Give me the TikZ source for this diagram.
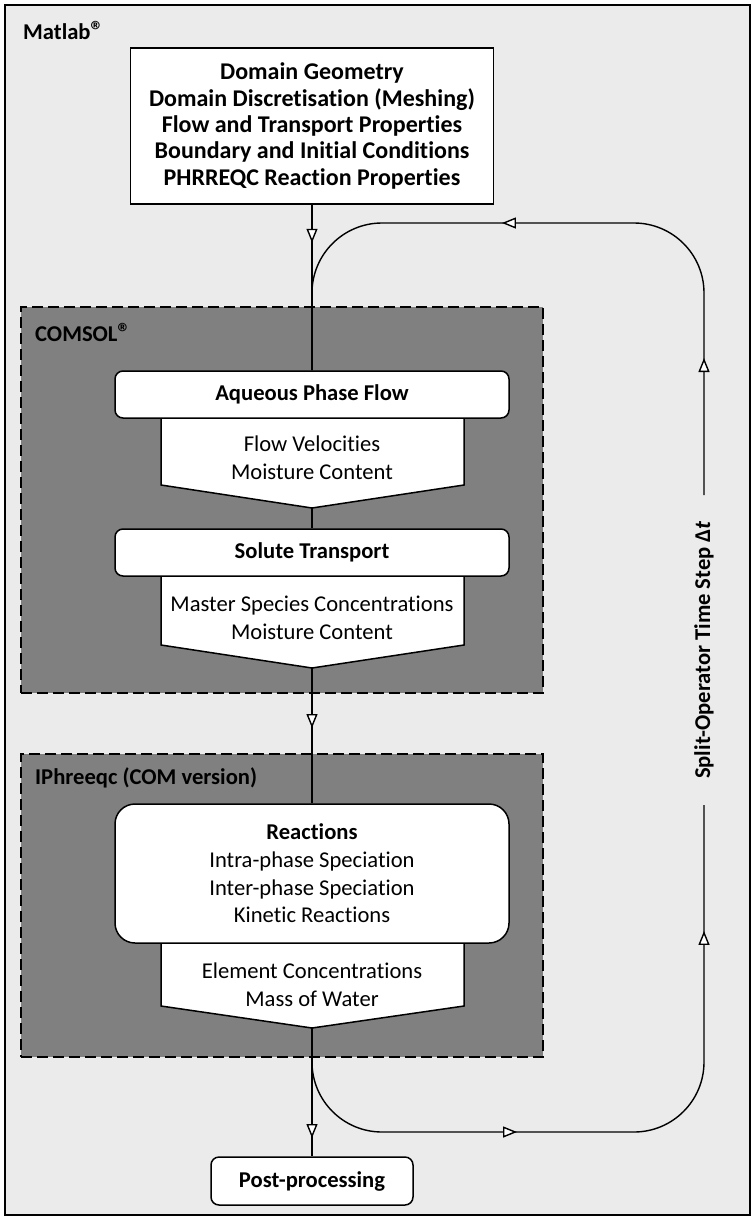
\documentclass[tikz,border=0pt]{standalone}
\usepackage{fontspec}
\setmainfont[Ligatures={NoCommon}]{Carlito}
\usetikzlibrary{arrows.meta,decorations.markings}
\definecolor{bggray}{HTML}{EBEBEB}
\definecolor{boxgray}{HTML}{808080}
\newcommand{\regmark}{{\fontsize{26}{26}\selectfont ®}}
\tikzset{
  ln/.style={line width=1.4pt, draw=black},
  fnt/.style={font=\fontsize{22.6}{27.6}\selectfont},
  txt/.style={fnt, align=center, inner sep=0pt},
  lbl/.style={font=\bfseries\fontsize{22.6}{27.6}\selectfont, inner sep=0pt},
  cont/.style={draw=black, line width=1.5pt, dash pattern=on 11pt off 5pt, fill=boxgray, rectangle, inner sep=0pt},
  sqbox/.style={draw=black, line width=1.5pt, fill=white, rectangle, align=center, inner sep=0pt, font=\bfseries\fontsize{24}{26.3}\selectfont},
  rbox/.style={draw=black, line width=1.5pt, fill=white, rectangle, rounded corners=8pt, align=center, inner sep=0pt, font=\bfseries\fontsize{22.6}{27.6}\selectfont},
  pent/.style={draw=black, line width=1.5pt, fill=white},
  tipA/.tip={Triangle[fill=white,length=14pt,width=11pt]},
  marrow/.style={postaction={decorate}, decoration={markings, mark=at position #1 with {\arrow{tipA}}}},
  darrow/.style 2 args={postaction={decorate}, decoration={markings, mark=at position #1 with {\arrow{tipA}}, mark=at position #2 with {\arrow{tipA}}}},
}
\begin{document}
\begin{tikzpicture}[x=1pt,y=-1pt]
\useasboundingbox (0,0) rectangle (755,1220);
% outer frame
\node[draw=black, line width=1.5pt, fill=bggray, minimum width=745pt, minimum height=1210pt, inner sep=0pt] (frame) at (377.5,610) {};
\node[lbl, anchor=west] (matlab) at (23,30) {Matlab\regmark};
% containers
\node[cont, minimum width=522pt, minimum height=386pt] (comsol) at (282,500) {};
\node[lbl, anchor=west] (comsollbl) at (35,332) {COMSOL\regmark};
\node[cont, minimum width=522pt, minimum height=303pt] (iph) at (282,905.5) {};
\node[lbl, anchor=west] (iphlbl) at (35,778) {IPhreeqc (COM version)};
% top box
\node[sqbox, minimum width=363pt, minimum height=156pt] (top) at (312,126) {Domain Geometry\\Domain Discretisation (Meshing)\\Flow and Transport Properties\\Boundary and Initial Conditions\\PHRREQC Reaction Properties};
% pentagons
\draw[pent] (161,418) -- (464,418) -- (464,485) -- (312,508) -- (161,485) -- cycle;
\coordinate (p1tip) at (312,508);
\node[txt] (p1txt) at (312,458) {Flow Velocities\\Moisture Content};
\draw[pent] (161,576) -- (464,576) -- (464,645) -- (312,668) -- (161,645) -- cycle;
\coordinate (p2tip) at (312,668);
\node[txt] (p2txt) at (312,618) {Master Species Concentrations\\Moisture Content};
\draw[pent] (161,943) -- (464,943) -- (464,1006) -- (312,1028) -- (161,1006) -- cycle;
\coordinate (p3tip) at (312,1028);
\node[txt] (p3txt) at (312,985) {Element Concentrations\\Mass of Water};
% rounded boxes
\node[rbox, minimum width=394pt, minimum height=47pt] (aq) at (312,394.5) {Aqueous Phase Flow};
\node[rbox, minimum width=394pt, minimum height=47pt] (st) at (312,552.5) {Solute Transport};
\node[rbox, rounded corners=20pt, minimum width=394pt, minimum height=139pt, font=\fontsize{22.6}{27.7}\selectfont] (re) at (312,873.5) {\textbf{Reactions}\\Intra-phase Speciation\\Inter-phase Speciation\\Kinetic Reactions};
\node[rbox, minimum width=202pt, minimum height=48pt] (post) at (312,1181) {Post-processing};
% label on the loop
\node[lbl, rotate=90] (split) at (704,650) {Split-Operator Time Step Δ\textit{t}};
\coordinate (gapb) at (704,805);
\coordinate (gapt) at (704,495);
% connectors
\draw[ln, marrow=38pt] (top.south) -- (aq.north);
\draw[ln] (p1tip) -- (st.north);
\draw[ln, marrow=60pt] (p2tip) -- (re.north);
\draw[ln, marrow=110pt] (p3tip) -- (post.north);
\draw[ln, rounded corners=70pt, darrow={279pt}{637pt}] (p3tip) -- (312,1132) -- (704,1132) -- (gapb);
\draw[ln, rounded corners=70pt, darrow={137pt}{444pt}] (gapt) -- (704,223) -- (312,223) -- (aq.north);
\end{tikzpicture}
\end{document}
